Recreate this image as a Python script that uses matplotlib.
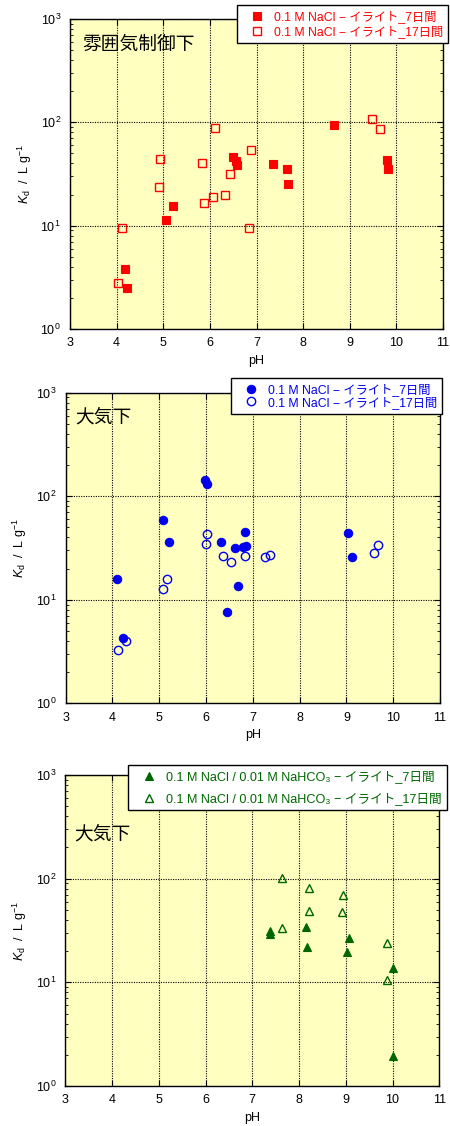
import matplotlib
matplotlib.use("Agg")
import matplotlib.pyplot as plt
from matplotlib.ticker import LogLocator, NullFormatter, FixedLocator

plt.rcParams['font.family'] = ['Liberation Sans', 'Noto Sans CJK JP', 'DejaVu Sans']
plt.rcParams['mathtext.fontset'] = 'custom'
plt.rcParams['mathtext.rm'] = 'Liberation Sans'
plt.rcParams['mathtext.it'] = 'Liberation Sans:italic'
plt.rcParams['mathtext.bf'] = 'Liberation Sans:bold'

# ---------------- data ----------------
# Panel 1: controlled atmosphere
p1_ph_7d = [4.19, 4.23, 5.05, 5.21, 6.50, 6.57, 6.59, 7.35, 7.66, 7.68, 8.66, 9.79, 9.82]
p1_kd_7d = [3.8, 2.5, 11.3, 15.5, 46, 42, 39, 39.5, 35, 25.2, 93.5, 43.6, 35]
p1_ph_17d = [4.04, 4.11, 4.90, 4.94, 5.83, 5.88, 6.06, 6.12, 6.33, 6.43, 6.83, 6.89, 9.48, 9.64]
p1_kd_17d = [2.8, 9.5, 23.7, 44.6, 40.8, 16.5, 19, 88, 19.8, 31.4, 9.4, 54.5, 107, 85.5]

# Panel 2: air, NaCl
p2_ph_7d = [4.10, 4.23, 5.07, 5.20, 5.97, 6.01, 6.32, 6.45, 6.62, 6.68, 6.80, 6.85, 6.84, 9.03, 9.12]
p2_kd_7d = [15.8, 4.25, 59, 36.4, 143.6, 131.5, 36.4, 7.7, 31.9, 13.6, 32.3, 33.0, 44.9, 43.9, 26.1]
p2_ph_17d = [4.12, 4.28, 5.07, 5.16, 5.99, 6.01, 6.37, 6.53, 6.83, 7.27, 7.37, 9.60, 9.67]
p2_kd_17d = [3.3, 4.0, 12.6, 15.8, 34.6, 42.9, 26.7, 23.3, 26.3, 25.7, 27.3, 28.1, 33.8]

# Panel 3: air, NaCl / NaHCO3
p3_ph_7d = [7.37, 7.38, 8.14, 8.18, 9.03, 9.07, 10.00, 10.02]
p3_kd_7d = [31.5, 29.0, 34, 22, 19.7, 26.6, 1.96, 13.6]
p3_ph_17d = [7.64, 7.64, 8.22, 8.22, 8.91, 8.95, 9.88, 9.88]
p3_kd_17d = [100.7, 33.2, 81, 49, 47.6, 69.5, 23.8, 10.5]

x_ticks = [3, 4, 5, 6, 7, 8, 9, 10, 11]
titles = ['雰囲気制御下', '大気下', '大気下']
labels_1 = ['0.1 M NaCl − イライト_7日間', '0.1 M NaCl − イライト_17日間']
labels_2 = ['0.1 M NaCl − イライト_7日間', '0.1 M NaCl − イライト_17日間']
labels_3 = ['0.1 M NaCl / 0.01 M NaHCO₃ − イライト_7日間',
            '0.1 M NaCl / 0.01 M NaHCO₃ − イライト_17日間']

W, H = 450, 1126
fig = plt.figure(figsize=(W / 100, H / 100), dpi=100)
BG = '#FFFFC0'

def px_axes(l, t, r, b):
    return fig.add_axes([l / W, 1 - b / H, (r - l) / W, (b - t) / H])

panels = [
    dict(box=(70, 19, 443, 329), color='#FF0000', marker='s', ms=5.6,
         d7=(p1_ph_7d, p1_kd_7d), d17=(p1_ph_17d, p1_kd_17d), labels=labels_1,
         title=titles[0], tpos=(0.032, 0.918), leg=(448, 5), lspace=0.2, lfs=8.8),
    dict(box=(65.7, 392.7, 440, 703.3), color='#0000EE', marker='o', ms=6.0,
         d7=(p2_ph_7d, p2_kd_7d), d17=(p2_ph_17d, p2_kd_17d), labels=labels_2,
         title=titles[1], tpos=(0.025, 0.923), leg=(442, 378), lspace=0.0, lfs=8.8),
    dict(box=(65.3, 775, 439.3, 1086), color='#006600', marker='^', ms=6.2,
         d7=(p3_ph_7d, p3_kd_7d), d17=(p3_ph_17d, p3_kd_17d), labels=labels_3,
         title=titles[2], tpos=(0.023, 0.81), leg=(447, 765), lspace=0.75, lfs=9.1),
]

for p in panels:
    ax = px_axes(*p['box'])
    ax.set_facecolor(BG)
    ax.set_yscale('log')
    ax.set_xlim(3, 11)
    ax.set_ylim(1, 1000)
    ax.xaxis.set_major_locator(FixedLocator(x_ticks))
    ax.yaxis.set_major_locator(LogLocator(base=10, numticks=10))
    ax.yaxis.set_minor_locator(LogLocator(base=10, subs=range(2, 10), numticks=20))
    ax.yaxis.set_minor_formatter(NullFormatter())
    ax.grid(True, which='major', color='black', linestyle=(0, (1, 1.2)), linewidth=0.8)
    ax.set_axisbelow(True)
    ax.tick_params(which='both', direction='in', top=True, right=True, labelsize=9,
                   color='black')
    ax.tick_params(which='major', length=4, width=0.8)
    ax.tick_params(which='minor', length=2, width=0.6)
    ax.tick_params(axis='x', pad=6)
    ax.tick_params(axis='y', pad=6.5)
    for s in ax.spines.values():
        s.set_linewidth(1.0)
    c = p['color']
    h7, = ax.plot(p['d7'][0], p['d7'][1], linestyle='none', marker=p['marker'],
                  ms=p['ms'], mfc=c, mec=c, mew=0.8, clip_on=False, zorder=3)
    h17, = ax.plot(p['d17'][0], p['d17'][1], linestyle='none', marker=p['marker'],
                   ms=p['ms'], mfc='none', mec=c, mew=1.0, clip_on=False, zorder=3)
    ax.set_xlabel('pH', fontsize=9, labelpad=4)
    ax.set_ylabel(r'$K_{\mathrm{d}}$  /  L g$^{-1}$', fontsize=9)
    ax.yaxis.set_label_coords(-0.097, 0.5)
    ax.text(p['tpos'][0], p['tpos'][1], p['title'], transform=ax.transAxes,
            fontsize=13.5, family=['Noto Sans CJK JP'], ha='left', va='center',
            color='black')
    lx, ly = p['leg']
    leg = fig.legend([h7, h17], p['labels'], loc='upper right',
                     bbox_to_anchor=(lx / W, 1 - ly / H), bbox_transform=fig.transFigure,
                     borderaxespad=0, fontsize=p['lfs'], frameon=True, fancybox=False,
                     edgecolor='black', facecolor='white', framealpha=1,
                     handlelength=2.5, handletextpad=0.15, borderpad=0.4,
                     labelspacing=p['lspace'], labelcolor=c)
    leg.get_frame().set_linewidth(1.0)

fig.savefig('out.png', dpi=100)
